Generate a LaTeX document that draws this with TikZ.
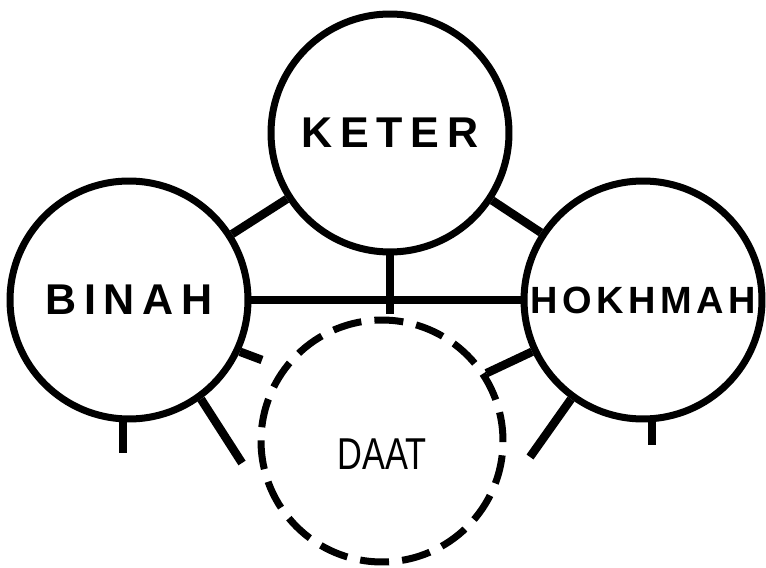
\documentclass[tikz,border=0pt]{standalone}
\usepackage{fontspec}
\usepackage{tikz}
\usetikzlibrary{positioning}
\newfontfamily\sefirafont[LetterSpace=18]{Liberation Sans}
\newfontfamily\hokhmahfont[LetterSpace=12]{Liberation Sans}
\newfontfamily\daatfont[FakeStretch=0.77]{Liberation Sans}
\tikzset{
  sefira/.style={circle,draw=black,line width=0.14cm,inner sep=0pt,minimum size=4.76cm,
                 font=\sefirafont\bfseries\fontsize{24.5pt}{26pt}\selectfont},
  hidden/.style={sefira,dash pattern=on 16.5pt off 7.5pt,minimum size=4.84cm},
  link/.style={line width=0.17cm,draw=black},
  daatname/.style={inner sep=0pt,font=\daatfont\fontsize{25.4pt}{27pt}\selectfont}
}

\begin{document}
\begin{tikzpicture}[x=0.02cm,y=-0.02cm]
    \useasboundingbox (0,0) rectangle (766,567);
    \node[sefira] (keter) at (390,133) {KETER};
    \node[sefira] (binah) at (129,300) {BINAH};
    \node[sefira,font=\hokhmahfont\bfseries\fontsize{21.6pt}{23pt}\selectfont] (hokhmah) at (643,300) {HOKHMAH};
    \node[hidden] (daat) at (382,441) {};
    \node[daatname] (daatlabel) at (382,454) {DAAT};
    % free ends of the paths
    \coordinate (mid) at (390,314);
    \coordinate (binahstub) at (262,360);
    \coordinate (binahlow) at (242,463);
    \coordinate (hokhmahlow) at (530,457);
    \coordinate (binahtick) at (123,453);
    \coordinate (hokhmahtick) at (652,445);
    \path (keter) edge[link] (binah);
    \path (keter) edge[link] (hokhmah);
    \path (binah.east) edge[link] (hokhmah.west);
    \path (keter.south) edge[link] (mid);
    \path (binah.-25) edge[link] (binahstub);
    \path (binah.-54) edge[link] (binahlow);
    \path (hokhmah.205) edge[link] (daat.33);
    \path (hokhmah.234) edge[link] (hokhmahlow);
    \path (binah.south -| binahtick) edge[link] (binahtick);
    \path (hokhmah.south -| hokhmahtick) edge[link] (hokhmahtick);
  \end{tikzpicture}
\end{document}
